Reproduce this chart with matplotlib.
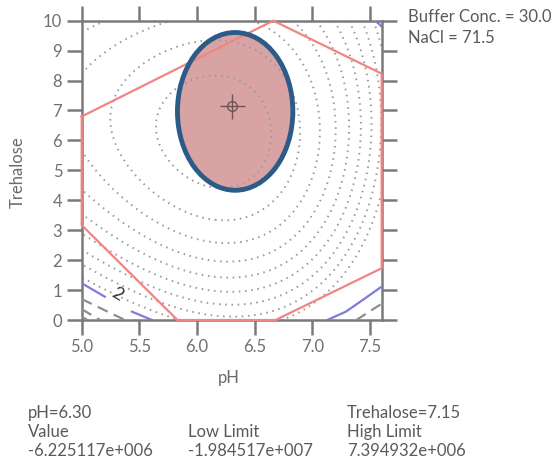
import numpy as np
import matplotlib
matplotlib.use("Agg")
import matplotlib.pyplot as plt
from matplotlib.patches import Ellipse

plt.rcParams['font.family'] = ['Lato', 'DejaVu Sans']

# dotted contour lines (pH, trehalose, contour number from the centre)
ct_ph = [5.61, 5.69, 6.04, 6.56, 6.57, 5.65,
         5.26, 5.44, 5.95, 5.32, 6.89, 6.30, 6.88,
         5.03, 5.18, 5.95, 5.06, 7.06, 6.30, 5.00,
         5.00, 5.12, 7.19, 6.30, 5.00, 6.85,
         7.31, 6.30, 5.00, 7.02,
         7.41, 6.30, 5.00, 7.19,
         7.51, 6.30, 5.00, 7.32,
         7.57, 6.30, 5.00, 7.44]
ct_tre = [6.68, 7.63, 7.96, 7.13, 6.50, 5.67,
          6.79, 8.58, 9.11, 5.35, 7.13, 3.45, 4.57,
          7.35, 9.36, 9.91, 5.35, 7.13, 2.67, 5.01,
          9.19, 10.0, 7.13, 2.06, 4.45, 10.0,
          7.13, 1.45, 3.68, 10.0,
          7.13, 0.89, 3.01, 10.0,
          7.13, 0.50, 2.34, 10.0,
          7.13, 0.11, 1.78, 10.0]
ct_num = [1, 1, 1, 1, 1, 1,
          2, 2, 2, 2, 2, 2, 2,
          3, 3, 3, 3, 3, 3, 3,
          4, 4, 4, 4, 4, 4,
          5, 5, 5, 5,
          6, 6, 6, 6,
          7, 7, 7, 7,
          8, 8, 8, 8]
levels = [1, 2, 3, 4, 5, 6, 7, 8, 9]

# limit contours (blue) and the dashed ones past them
blue_a_ph, blue_a_tre = [5.0, 5.2], [1.23, 0.78]
blue_b_ph, blue_b_tre = [5.435, 5.61], [0.28, 0.0]
blue_c_ph, blue_c_tre = [7.128, 7.29, 7.436, 7.59], [0.0, 0.28, 0.67, 1.09]
blue_d_ph, blue_d_tre = [7.54, 7.575, 7.6], [10.0, 9.9, 9.8]
dash_lines = [([5.0, 5.375], [0.70, 0.0]),
              ([5.0, 5.16], [0.36, 0.0]),
              ([5.0, 5.05], [0.11, 0.0]),
              ([7.38, 7.59], [0.0, 0.52])]

# feasible region boundary
red_ph = [5.0, 6.66, 7.6, 7.6, 6.68, 5.83, 5.0, 5.0]
red_tre = [6.8, 10.0, 8.23, 1.73, 0.0, 0.0, 3.17, 6.8]

# confidence ellipse and current point
ell_center = (6.33, 6.97)
ell_w, ell_h = 1.0, 5.27
cur_ph, cur_tre = 6.30, 7.15

# cubic surface through the contour points
def terms(x, y):
    u = (np.asarray(x) - 6.3) / 1.3
    v = (np.asarray(y) - 5.0) / 5.0
    return np.stack([np.ones_like(u), u, v, u*u, u*v, v*v,
                     u**3, u*u*v, u*v*v, v**3], axis=-1)

A = terms(ct_ph, ct_tre)
coef, *_ = np.linalg.lstsq(A, np.array(ct_num, float), rcond=None)
gx, gy = np.meshgrid(np.linspace(5.0, 7.6, 300), np.linspace(0, 10, 300))
gz = terms(gx, gy) @ coef

fig = plt.figure(figsize=(5.58, 4.68), dpi=100)
ax = fig.add_axes([0.1464, 0.3162, 0.5376, 0.6396])

ax.add_patch(Ellipse(ell_center, ell_w, ell_h, fc='#d9a3a3', ec='none', zorder=1))
cs = ax.contour(gx, gy, gz, levels=levels, colors='#9a9a9a', linewidths=1.4,
                linestyles=[(0, (0.8, 2.4))], zorder=2)

for xs, ys in [(blue_a_ph, blue_a_tre), (blue_b_ph, blue_b_tre),
               (blue_c_ph, blue_c_tre), (blue_d_ph, blue_d_tre)]:
    ax.plot(xs, ys, color='#7d7dd8', lw=1.6, zorder=3)
for xs, ys in dash_lines:
    ax.plot(xs, ys, color='#8e8e8e', lw=1.6, ls=(0, (5, 3)), zorder=3)
ax.text(5.31, 0.87, '2', fontsize=13, rotation=-30, color='#333333',
        ha='center', va='center', zorder=3)

ax.plot(red_ph, red_tre, color='#f08585', lw=1.6, zorder=4, clip_on=False)

ax.add_patch(Ellipse(ell_center, ell_w, ell_h, fill=False, ec='#2c5b88', lw=3.5, zorder=5))
ax.plot(cur_ph, cur_tre, marker='o', mfc='none', mec='#6e5555', ms=7, mew=1, zorder=6)
ax.plot(cur_ph, cur_tre, marker='+', color='#6e5555', ms=18, mew=1, zorder=6)

ax.set_xlim(5.0, 7.6)
ax.set_ylim(0, 10)
ax.set_xticks([5.0, 5.5, 6.0, 6.5, 7.0, 7.5])
ax.set_xticklabels(['5.0', '5.5', '6.0', '6.5', '7.0', '7.5'])
ax.set_yticks(range(11))
ax.tick_params(direction='out', length=11, width=1.8, color='#7a7a7a',
               labelcolor='#707070', labelsize=12, top=True, right=True,
               labeltop=False, labelright=False, pad=3)
for sp in ax.spines.values():
    sp.set_color('#7a7a7a')
    sp.set_linewidth(1.8)

txt = '#5a5a5a'
fig.text(229/558, 1-378/468, 'pH', fontsize=12, color='#6a6a6a', ha='center', va='center')
fig.text(18/558, 1-172/468, 'Trehalose', fontsize=12, color='#6a6a6a', rotation=90,
         ha='center', va='center')
fig.text(408/558, 1-17/468, 'Buffer Conc. = 30.0', fontsize=12, color=txt, va='center')
fig.text(408/558, 1-38/468, 'NaCl = 71.5', fontsize=12, color=txt, va='center')

fig.text(28/558, 1-413/468, 'pH=6.30', fontsize=12, color=txt, va='center')
fig.text(347/558, 1-413/468, 'Trehalose=7.15', fontsize=12, color=txt, va='center')
fig.text(28/558, 1-432/468, 'Value', fontsize=12, color=txt, va='center')
fig.text(188/558, 1-432/468, 'Low Limit', fontsize=12, color=txt, va='center')
fig.text(347/558, 1-432/468, 'High Limit', fontsize=12, color=txt, va='center')
fig.text(28/558, 1-451/468, '-6.225117e+006', fontsize=12, color=txt, va='center')
fig.text(188/558, 1-451/468, '-1.984517e+007', fontsize=12, color=txt, va='center')
fig.text(347/558, 1-451/468, '7.394932e+006', fontsize=12, color=txt, va='center')

fig.savefig('out.png', dpi=100)
